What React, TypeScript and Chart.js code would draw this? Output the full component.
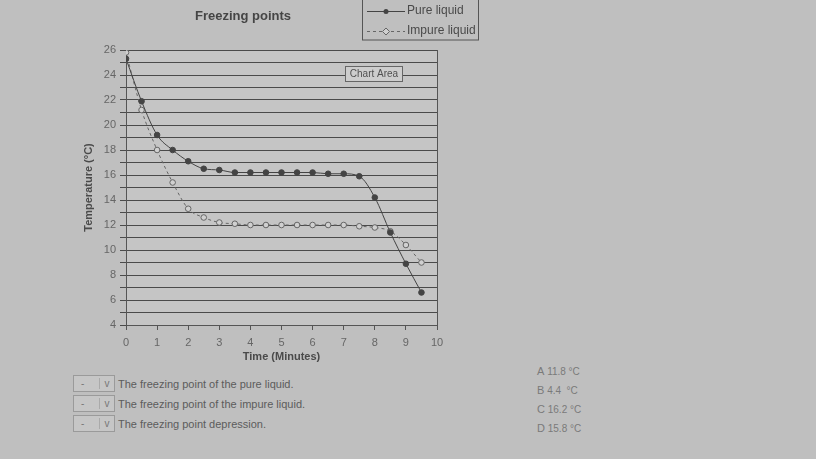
import React, { useEffect, useRef } from 'react';
import { Chart, registerables } from 'chart.js';

Chart.register(...registerables);

// time in minutes, readings every half minute
const times = [0, 0.5, 1, 1.5, 2, 2.5, 3, 3.5, 4, 4.5, 5, 5.5, 6, 6.5, 7, 7.5, 8, 8.5, 9, 9.5];
const pureTemps = [25.3, 21.9, 19.2, 18.0, 17.1, 16.5, 16.4, 16.2, 16.2, 16.2, 16.2, 16.2, 16.2, 16.1, 16.1, 15.9, 14.2, 11.4, 8.9, 6.6];
const impureTemps = [25.8, 21.2, 18.0, 15.4, 13.3, 12.6, 12.2, 12.1, 12.0, 12.0, 12.0, 12.0, 12.0, 12.0, 12.0, 11.9, 11.8, 11.5, 10.4, 9.0];
const yLabelValues = [4, 6, 8, 10, 12, 14, 16, 18, 20, 22, 24, 26];
const xLabelValues = [0, 1, 2, 3, 4, 5, 6, 7, 8, 9, 10];

const questions = [
    'The freezing point of the pure liquid.',
    'The freezing point of the impure liquid.',
    'The freezing point depression.',
];
const answers = [
    ['A', '11.8 °C'],
    ['B', '4.4  °C'],
    ['C', '16.2 °C'],
    ['D', '15.8 °C'],
];

const FONT = '"Liberation Sans", Arial, sans-serif';
const BG = '#bfbfbf';

const extras = {
    id: 'extras',
    beforeDraw(chart: Chart) {
        const { ctx, chartArea } = chart;
        ctx.save();
        ctx.fillStyle = '#c5c5c5';
        ctx.fillRect(chartArea.left, chartArea.top, chartArea.right - chartArea.left, chartArea.bottom - chartArea.top);
        ctx.restore();
    },
    afterDraw(chart: Chart) {
        const { ctx, chartArea } = chart;
        ctx.save();
        // right border of plot
        ctx.strokeStyle = '#555';
        ctx.lineWidth = 1;
        ctx.beginPath();
        ctx.moveTo(chartArea.right + 0.5, chartArea.top);
        ctx.lineTo(chartArea.right + 0.5, chartArea.bottom);
        ctx.stroke();

        // title
        ctx.fillStyle = '#454545';
        ctx.font = `bold 13px ${FONT}`;
        ctx.textAlign = 'center';
        ctx.textBaseline = 'middle';
        ctx.fillText('Freezing points', 243, 16);

        // legend box
        ctx.strokeStyle = '#555';
        ctx.strokeRect(362.5, -1, 116, 41);
        ctx.lineWidth = 1;
        ctx.strokeStyle = '#444';
        ctx.beginPath();
        ctx.moveTo(367, 11.5);
        ctx.lineTo(405, 11.5);
        ctx.stroke();
        ctx.fillStyle = '#444';
        ctx.beginPath();
        ctx.arc(386, 11.5, 2.5, 0, Math.PI * 2);
        ctx.fill();
        ctx.setLineDash([3, 3]);
        ctx.strokeStyle = '#666';
        ctx.beginPath();
        ctx.moveTo(367, 31.5);
        ctx.lineTo(405, 31.5);
        ctx.stroke();
        ctx.setLineDash([]);
        ctx.fillStyle = '#cfcfcf';
        ctx.beginPath();
        ctx.moveTo(386, 28);
        ctx.lineTo(389.5, 31.5);
        ctx.lineTo(386, 35);
        ctx.lineTo(382.5, 31.5);
        ctx.closePath();
        ctx.fill();
        ctx.stroke();
        ctx.fillStyle = '#4a4a4a';
        ctx.font = `12px ${FONT}`;
        ctx.textAlign = 'left';
        ctx.fillText('Pure liquid', 407, 11);
        ctx.fillText('Impure liquid', 407, 31);

        // "Chart Area" tooltip
        ctx.fillStyle = '#cdcdcd';
        ctx.fillRect(345.5, 66.5, 57, 15);
        ctx.strokeStyle = '#666';
        ctx.strokeRect(345.5, 66.5, 57, 15);
        ctx.fillStyle = '#505050';
        ctx.font = `10px ${FONT}`;
        ctx.textAlign = 'center';
        ctx.fillText('Chart Area', 374, 74.5);
        ctx.restore();
    },
};

const FreezingChart: React.FC = () => {
    const chartRef = useRef<HTMLCanvasElement | null>(null);
    const chartInstanceRef = useRef<Chart | null>(null);

    useEffect(() => {
        if (!chartRef.current) return;

        chartInstanceRef.current = new Chart(chartRef.current, {
            type: 'line',
            data: {
                datasets: [
                    {
                        label: 'Pure liquid',
                        data: times.map((t, i) => ({ x: t, y: pureTemps[i] })),
                        borderColor: '#444',
                        borderWidth: 1,
                        backgroundColor: '#444',
                        pointRadius: 2.8,
                        pointBorderColor: '#444',
                        pointBackgroundColor: '#444',
                        tension: 0.35,
                        cubicInterpolationMode: 'monotone',
                    },
                    {
                        label: 'Impure liquid',
                        data: times.map((t, i) => ({ x: t, y: impureTemps[i] })),
                        borderColor: '#666',
                        borderWidth: 1,
                        borderDash: [3, 3],
                        pointRadius: 2.8,
                        pointBorderColor: '#666',
                        pointBackgroundColor: '#d0d0d0',
                        tension: 0.35,
                        cubicInterpolationMode: 'monotone',
                    },
                ],
            },
            options: {
                responsive: false,
                animation: false,
                layout: { padding: { left: 80, right: 63, top: 50, bottom: 0 } },
                scales: {
                    x: {
                        type: 'linear',
                        min: 0,
                        max: 10,
                        afterFit: (s: any) => { s.height = 45; },
                        grid: { drawOnChartArea: false, tickLength: 5, color: '#555' },
                        border: { color: '#555' },
                        ticks: {
                            stepSize: 1,
                            padding: 6,
                            color: '#666',
                            font: { family: FONT, size: 11 },
                            callback: (v: any) => (xLabelValues.includes(Number(v)) ? String(v) : ''),
                        },
                        title: {
                            display: true,
                            text: 'Time (Minutes)',
                            color: '#4a4a4a',
                            font: { family: FONT, size: 11, weight: 'bold' },
                            padding: { top: 0, bottom: 6 },
                        },
                    },
                    y: {
                        min: 4,
                        max: 26,
                        afterFit: (s: any) => { s.width = 46; },
                        grid: { color: '#4a4a4a', tickLength: 6 },
                        border: { color: '#555' },
                        ticks: {
                            stepSize: 1,
                            autoSkip: false,
                            padding: 4,
                            color: '#666',
                            font: { family: FONT, size: 11 },
                            callback: (v: any) => (yLabelValues.includes(Number(v)) ? String(v) : ''),
                        },
                        title: {
                            display: true,
                            text: 'Temperature (°C)',
                            color: '#4a4a4a',
                            font: { family: FONT, size: 11, weight: 'bold' },
                            padding: { top: 2, bottom: 0 },
                        },
                    },
                },
                plugins: {
                    legend: { display: false },
                    tooltip: { enabled: false },
                },
            },
            plugins: [extras],
        });

        return () => {
            chartInstanceRef.current?.destroy();
        };
    }, []);

    return <canvas ref={chartRef} width={500} height={370} style={{ position: 'absolute', left: 0, top: 0 }} />;
};

export default function App() {
    return (
        <div style={{ position: 'fixed', left: 0, top: 0, width: 816, height: 459, background: BG, overflow: 'hidden', fontFamily: FONT }}>
            <FreezingChart />
            {questions.map((q, i) => (
                <div key={q} style={{ position: 'absolute', left: 73, top: 375 + i * 20, height: 17, display: 'flex', alignItems: 'center' }}>
                    <div style={{ width: 40, height: 15, border: '1px solid #9a9a9a', background: '#c6c6c6', display: 'flex', alignItems: 'center', fontSize: 10, color: '#777' }}>
                        <span style={{ flex: 1, paddingLeft: 7 }}>-</span>
                        <span style={{ width: 14, borderLeft: '1px solid #aaa', textAlign: 'center' }}>v</span>
                    </div>
                    <span style={{ marginLeft: 3, fontSize: 11, color: '#5c5c5c' }}>{q}</span>
                </div>
            ))}
            {answers.map(([letter, value], i) => (
                <div key={letter} style={{ position: 'absolute', left: 537, top: 365 + i * 19, fontSize: 10, color: '#7a7a7a', whiteSpace: 'pre' }}>
                    <span style={{ fontSize: 11 }}>{letter}</span> {value}
                </div>
            ))}
        </div>
    );
}
